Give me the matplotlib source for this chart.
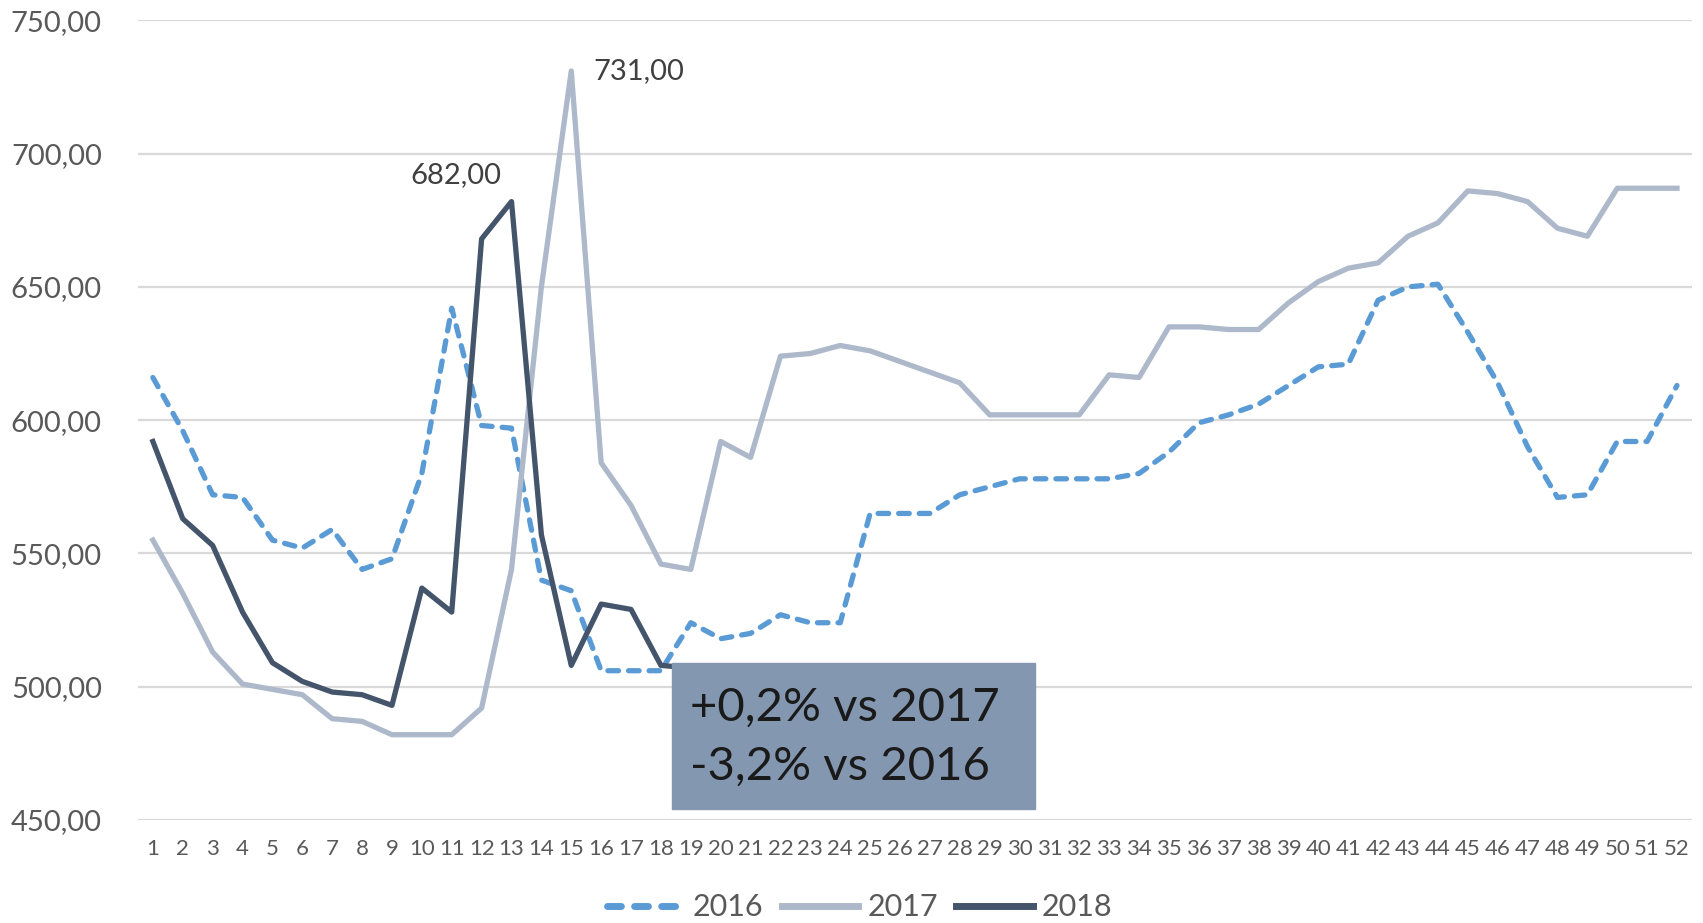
# weekly price chart 2016-2018
import numpy as np
import matplotlib.pyplot as plt
from matplotlib.ticker import FuncFormatter

weeks = list(range(1, 53))

y2016 = [616, 596, 572, 571, 555, 552, 559, 544, 548, 580, 642, 598, 597, 540, 536, 506,
         506, 506, 524, 518, 520, 527, 524, 524, 565, 565, 565, 572, 575, 578, 578, 578,
         578, 580, 588, 599, 602, 606, 613, 620, 621, 645, 650, 651, 633, 614, 590, 571,
         572, 592, 592, 613]
y2017 = [555, 535, 513, 501, 499, 497, 488, 487, 482, 482, 482, 492, 544, 650, 731, 584,
         568, 546, 544, 592, 586, 624, 625, 628, 626, 622, 618, 614, 602, 602, 602, 602,
         617, 616, 635, 635, 634, 634, 644, 652, 657, 659, 669, 674, 686, 685, 682, 672,
         669, 687, 687, 687]
y2018 = [592, 563, 553, 528, 509, 502, 498, 497, 493, 537, 528, 668, 682, 557, 508, 531,
         529, 508, 507]

box_lines = ["+0,2% vs 2017", "-3,2% vs 2016"]

plt.rcParams['font.family'] = ['Lato', 'DejaVu Sans']

fig = plt.figure(figsize=(17.03, 9.23), dpi=100)
ax = fig.add_axes([0.081, 0.1116, 0.9125, 0.8664])

ax.plot(weeks, y2016, color="#5B9BD5", lw=3.8, dashes=(2.0, 1.9),
        dash_capstyle="round", label="2016", zorder=3)
ax.plot(weeks, y2017, color="#ADB9CA", lw=3.8, label="2017", zorder=3)
ax.plot(weeks[:len(y2018)], y2018, color="#44546A", lw=3.8, label="2018", zorder=4)

# peak labels
i17 = int(np.argmax(y2017))
ax.annotate(f"{y2017[i17]:.2f}".replace(".", ","), (weeks[i17], y2017[i17]),
            xytext=(16, 0), textcoords="offset points", ha="left", va="center",
            fontsize=21, color="#404040")
i18 = int(np.argmax(y2018))
ax.annotate(f"{y2018[i18]:.2f}".replace(".", ","), (weeks[i18], y2018[i18]),
            xytext=(-40, 10), textcoords="offset points", ha="center", va="bottom",
            fontsize=21, color="#404040")

# comment box
fig.patches.append(plt.Rectangle((672 / 1703, 1 - 809 / 923), 363 / 1703, 146 / 923,
                                 transform=fig.transFigure, color="#8497B0", zorder=10))
fig.text(690 / 1703, 1 - 708 / 923, box_lines[0], fontsize=34, color="#1a1a1a",
         va="center", ha="left", zorder=11)
fig.text(690 / 1703, 1 - 767 / 923, box_lines[1], fontsize=34, color="#1a1a1a",
         va="center", ha="left", zorder=11)

ax.set_xlim(0.5, 52.5)
ax.set_ylim(450, 750)
ax.set_yticks(np.arange(450, 751, 50))
ax.yaxis.set_major_formatter(FuncFormatter(lambda v, p: f"{v:.2f}".replace(".", ",")))
ax.set_xticks(weeks)
ax.set_xticklabels([str(w) for w in weeks])
ax.tick_params(axis="y", length=0, labelsize=21, labelcolor="#595959", pad=26)
ax.tick_params(axis="x", length=0, labelsize=16, labelcolor="#595959", pad=14)
ax.grid(axis="y", color="#D9D9D9", lw=1.6)
ax.set_axisbelow(True)
for s in ax.spines.values():
    s.set_visible(False)

leg = fig.legend(loc="lower center", ncol=3, bbox_to_anchor=(0.505, -0.028), frameon=False,
                 fontsize=22, handlelength=2.5, columnspacing=0.6, handletextpad=0.3)
for t in leg.get_texts():
    t.set_color("#595959")
for h in leg.get_lines():
    h.set_linewidth(5)

fig.savefig("out.png", dpi=100)
